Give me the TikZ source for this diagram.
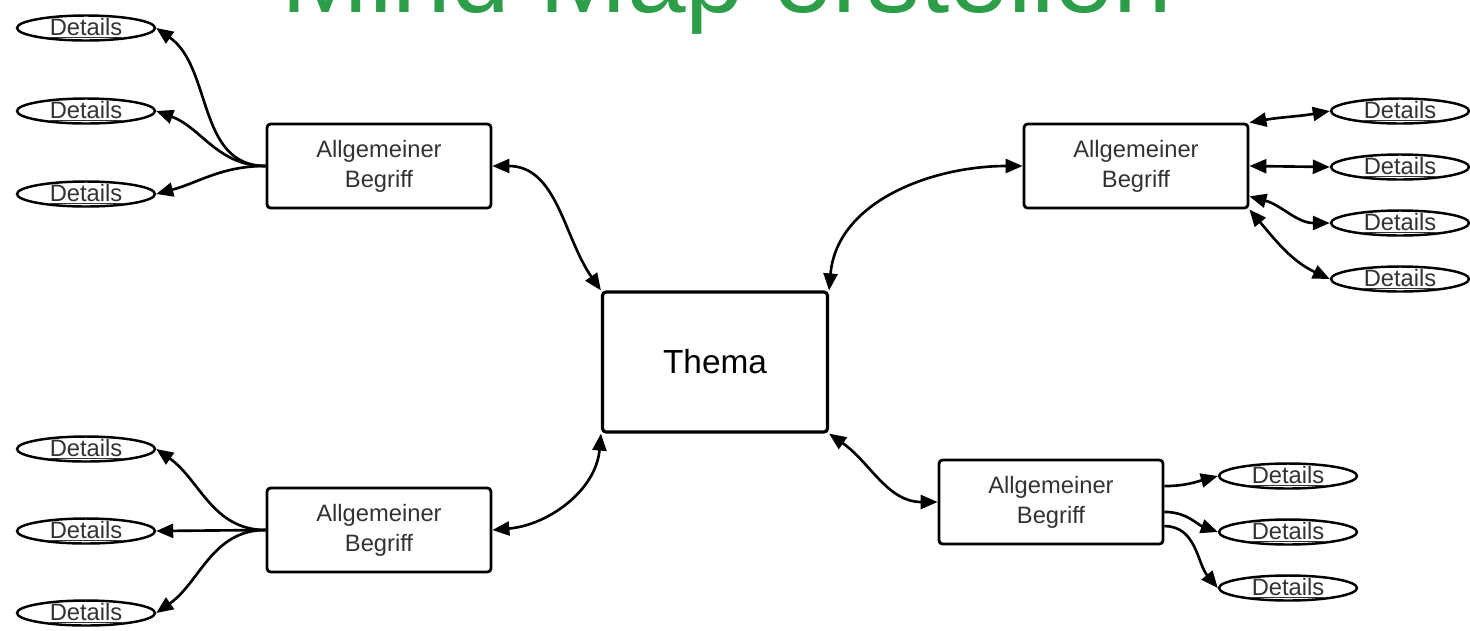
\documentclass[tikz,border=0pt]{standalone}
\usepackage{fontspec}
\setmainfont{Liberation Sans}
\usepackage{xcolor}
\definecolor{titlegreen}{RGB}{44,158,74}
\definecolor{boxtext}{RGB}{50,50,50}
\usetikzlibrary{arrows.meta,shapes.geometric}

\begin{document}
\begin{tikzpicture}[x=0.02cm,y=-0.02cm,
  >={Triangle[length=0.34cm,width=0.28cm]},
  topic/.style={draw, line width=1.8pt, rounded corners=2pt, minimum width=4.5cm,
    minimum height=2.8cm, font=\fontsize{19}{22}\selectfont},
  concept/.style={draw, line width=1.6pt, rounded corners=2pt, minimum width=4.48cm,
    minimum height=1.68cm, align=center, text=boxtext, font=\fontsize{13.5}{17}\selectfont},
  detail/.style={ellipse, draw, line width=1.4pt, minimum width=2.76cm,
    minimum height=0.5cm, inner sep=0pt, text=boxtext, font=\fontsize{13.5}{15}\selectfont},
  link/.style={line width=1.5pt, ->},
  twoway/.style={line width=1.5pt, <->}
]
\useasboundingbox (0,0) rectangle (1470,630);
\clip (0,0) rectangle (1470,630);
\fill[white] (0,0) rectangle (1470,630);

% title, cut off at the top edge
\node[anchor=base, text=titlegreen, font=\fontsize{60}{60}\selectfont] (title) at (727,12) {Mind Map erstellen};

\node[topic] (thema) at (715,362) {Thema};
\node[concept] (cTL) at (379,166) {Allgemeiner\\Begriff};
\node[concept] (cTR) at (1136,166) {Allgemeiner\\Begriff};
\node[concept] (cBL) at (379,530) {Allgemeiner\\Begriff};
\node[concept] (cBR) at (1051,502) {Allgemeiner\\Begriff};

\foreach \nm/\px/\py in {tl1/86/28, tl2/86/111, tl3/86/194,
    tr1/1400/111, tr2/1400/167, tr3/1400/223, tr4/1400/279,
    bl1/86/449, bl2/86/531, bl3/86/613,
    br1/1288/476, br2/1288/532, br3/1288/588}
  \node[detail] (d\nm) at (\px,\py) {\raisebox{-0.3em}[0pt][0pt]{\underline{Details}}};

% topic to concepts
\draw[twoway] (cTL.east) to[out=0,in=125] (thema.north west);
\draw[twoway] (cTR.west) to[out=180,in=85] (thema.north east);
\draw[twoway] (thema.south west) to[out=-95,in=5] (cBL.east);
\draw[twoway] (thema.south east) to[out=-35,in=180] (cBR.west);

% details
\draw[link] (cTL.west) to[out=180,in=-35] (dtl1.east);
\draw[link] (cTL.west) to[out=180,in=-20] (dtl2.east);
\draw[link] (cTL.west) to[out=180,in=15] (dtl3.east);

\draw[twoway] (cTR.north east) to[out=10,in=190] (dtr1.west);
\draw[twoway] (cTR.east) -- (dtr2.west);
\draw[twoway] (cTR.-15) to[out=-15,in=180] (dtr3.west);
\draw[twoway] (cTR.south east) to[out=-50,in=155] (dtr4.west);

\draw[link] (cBL.west) to[out=180,in=-35] (dbl1.east);
\draw[link] (cBL.west) -- (dbl2.east);
\draw[link] (cBL.west) to[out=180,in=35] (dbl3.east);

\draw[link] (cBR.8) to[out=0,in=195] (dbr1.west);
\draw[link] (cBR.-5) to[out=0,in=160] (dbr2.west);
\draw[link] (cBR.-12) to[out=0,in=130] (dbr3.west);
\end{tikzpicture}
\end{document}
